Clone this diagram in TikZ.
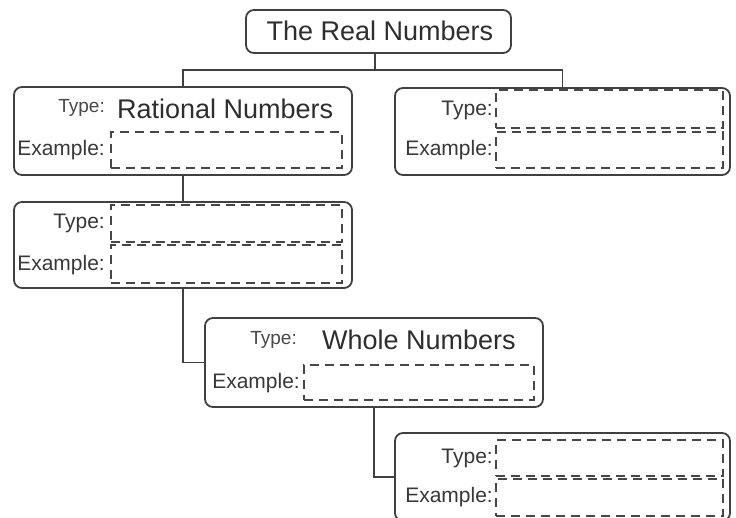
\documentclass[tikz,border=0pt]{standalone}
\usepackage{fontspec}
\setmainfont{Liberation Sans}
\begin{document}
\begin{tikzpicture}[x=1pt,y=-1pt,
  ink/.style={draw=black!75, line width=1.8pt},
  rbox/.style={ink, rounded corners=8pt, inner sep=0pt},
  dbox/.style={draw=black!72, line width=1.9pt, dash pattern=on 9pt off 6pt, inner sep=0pt},
  conn/.style={draw=black!75, line width=1.6pt},
  lbl/.style={text=black!78, inner sep=0pt, anchor=east, font=\fontsize{21}{24}\selectfont},
  slbl/.style={text=black!72, inner sep=0pt, anchor=east, font=\fontsize{19}{22}\selectfont},
  big/.style={text=black!82, inner sep=0pt, anchor=west, font=\fontsize{27}{30}\selectfont}
]
\useasboundingbox (0,0) rectangle (736,517);
\clip (0,0) rectangle (736,517);
\fill[white] (0,0) rectangle (736,517);

% top
\node[rbox, minimum width=265pt, minimum height=43pt] (top) at (378.5,31.5) {};
\node[big, anchor=center] (toptxt) at (380,31) {The Real Numbers};

% box 1
\node[rbox, minimum width=338pt, minimum height=88pt] (b1) at (183,131) {};
\node[slbl] (b1t) at (105,108) {Type:};
\node[big] (b1v) at (117,109) {Rational Numbers};
\node[lbl] (b1e) at (105,150) {Example:};
\node[dbox, minimum width=231pt, minimum height=36pt] (b1ed) at (226.5,150) {};

% box 2
\node[rbox, minimum width=335pt, minimum height=87pt] (b2) at (562.5,131.5) {};
\node[lbl] (b2t) at (493,110) {Type:};
\node[lbl] (b2e) at (493,150) {Example:};
\node[dbox, minimum width=227pt, minimum height=38pt] (b2td) at (609.5,109) {};
\node[dbox, minimum width=227pt, minimum height=36pt] (b2ed) at (609.5,150) {};

% box 3
\node[rbox, minimum width=338pt, minimum height=86pt] (b3) at (183,245) {};
\node[lbl] (b3t) at (105,223) {Type:};
\node[lbl] (b3e) at (105,265) {Example:};
\node[dbox, minimum width=231pt, minimum height=37pt] (b3td) at (226.5,223.5) {};
\node[dbox, minimum width=231pt, minimum height=38pt] (b3ed) at (226.5,264) {};

% box 4
\node[rbox, minimum width=338pt, minimum height=89pt] (b4) at (374,362.5) {};
\node[slbl] (b4t) at (297,340) {Type:};
\node[big] (b4v) at (322,340) {Whole Numbers};
\node[lbl] (b4e) at (300,383) {Example:};
\node[dbox, minimum width=230pt, minimum height=35pt] (b4ed) at (419,382.5) {};

% box 5
\node[rbox, minimum width=335pt, minimum height=88pt] (b5) at (562.5,477) {};
\node[lbl] (b5t) at (493,458) {Type:};
\node[lbl] (b5e) at (493,497) {Example:};
\node[dbox, minimum width=227pt, minimum height=36pt] (b5td) at (609.5,458) {};
\node[dbox, minimum width=227pt, minimum height=37pt] (b5ed) at (609.5,497.5) {};

% connectors
\coordinate (j) at (375,70);
\draw[conn] (top.south -| j) -- (j);
\draw[conn] (b1.north) |- (b2.north |- j) -- (b2.north);
\draw[conn] (b1.south) -- (b3.north);
\draw[conn] (b3.south) |- (b4.west);
\draw[conn] (b4.south) |- (b5.west);
\end{tikzpicture}
\end{document}
